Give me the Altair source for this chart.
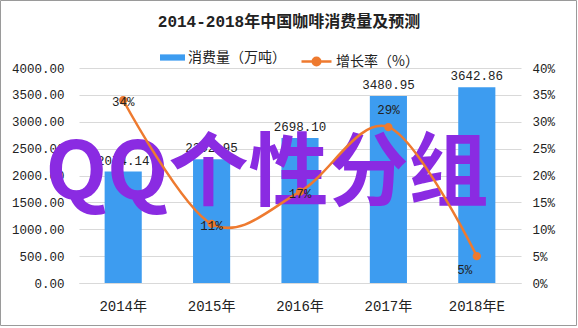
import altair as alt
import pandas as pd

# ---- data ----
years = ["2014年", "2015年", "2016年", "2017年", "2018年E"]
consumption = [2074.14, 2302.95, 2698.10, 3480.95, 3642.86]   # 消费量（万吨）
growth = [0.34, 0.11, 0.17, 0.29, 0.05]                       # 增长率
left_ticks = [0, 500, 1000, 1500, 2000, 2500, 3000, 3500, 4000]
right_ticks = [0, 0.05, 0.10, 0.15, 0.20, 0.25, 0.30, 0.35, 0.40]
series_bar = "消费量（万吨）"
series_line = "增长率（%）"
title_text = "2014-2018年中国咖啡消费量及预测"
overlay_text = "QQ个性分组"

# ---- styles ----
BLUE = "#3d9cf0"
ORANGE = "#ee7a2f"
PURPLE = "#8a2be2"
GRID = "#d9d9d9"
TXT = "#222222"
NUM_FONT = "Liberation Mono, Noto Sans CJK SC"
CJK_FONT = "Noto Sans CJK SC"
W, H = 442, 215

df = pd.DataFrame({
    "year": years,
    "consumption": consumption,
    "growth": growth,
    "s1": [series_bar] * len(years),
    "s2": [series_line] * len(years),
})

base = alt.Chart(df)

x_enc = alt.X(
    "year:N", sort=years,
    scale=alt.Scale(paddingInner=0.58, paddingOuter=0.29),
    axis=alt.Axis(title=None, labelAngle=0, ticks=False, domainColor=GRID,
                  labelPadding=16, labelFont=NUM_FONT, labelFontSize=14,
                  labelColor=TXT, grid=False),
)

left_axis = alt.Axis(title=None, values=left_ticks, format=".2f",
                     ticks=False, domain=False, gridColor=GRID,
                     labelPadding=15, labelFont=NUM_FONT,
                     labelFontSize=12.5, labelColor=TXT)
right_axis = alt.Axis(orient="right", title=None, values=right_ticks,
                      format=".0%", ticks=False, domain=False, grid=False,
                      labelPadding=11, labelFont=NUM_FONT,
                      labelFontSize=12.5, labelColor=TXT)

y_left = alt.Y("consumption:Q", scale=alt.Scale(domain=[0, 4000], nice=False),
               axis=left_axis)
y_right = alt.Y("growth:Q", scale=alt.Scale(domain=[0, 0.4], nice=False),
                axis=right_axis)

bars = base.mark_bar(color=BLUE).encode(
    x=x_enc,
    y=y_left,
    color=alt.Color("s1:N", scale=alt.Scale(range=[BLUE]),
                    legend=alt.Legend(title=None, orient="none",
                                      legendX=81, legendY=-23,
                                      symbolType="M-1,-0.25H1V0.25H-1Z",
                                      symbolSize=625, symbolStrokeWidth=0,
                                      labelFont=CJK_FONT, labelFontSize=14,
                                      labelColor=TXT, labelOffset=3)),
)

bar_labels = base.mark_text(baseline="bottom", dy=-4, font=NUM_FONT,
                            fontSize=12.5, color=TXT).encode(
    x=x_enc,
    y=y_left,
    text=alt.Text("consumption:Q", format=".2f"),
)

one = pd.DataFrame({"t": [overlay_text], "title": [title_text]})

overlay = alt.Chart(one).mark_text(
    font=CJK_FONT, fontSize=80, fontWeight="bold", color=PURPLE,
    align="center", baseline="middle",
).encode(x=alt.value(188), y=alt.value(107), text="t:N")

title_mark = alt.Chart(one).mark_text(
    font=NUM_FONT, fontSize=16, fontWeight="bold", color=TXT,
    align="center", baseline="middle",
).encode(x=alt.value(210), y=alt.value(-46), text="title:N")

border = alt.Chart(one).mark_rect(
    fillOpacity=0, stroke="#9a9a9a", strokeWidth=1
).encode(x=alt.value(-78.5), x2=alt.value(497.5),
         y=alt.value(-67.5), y2=alt.value(257.5))

left = alt.layer(bars, bar_labels, overlay, title_mark, border)

line = base.mark_line(
    interpolate="cardinal", strokeWidth=2.5,
    point=alt.OverlayMarkDef(filled=True, fill=ORANGE, size=40),
).encode(
    x=x_enc,
    y=y_right,
    stroke=alt.Stroke("s2:N", scale=alt.Scale(range=[ORANGE]),
                      legend=alt.Legend(title=None, orient="none",
                                        legendX=221, legendY=-23,
                                        symbolType="M-1,0H1M0.25,0A0.25,0.25,0,1,1,-0.25,0A0.25,0.25,0,1,1,0.25,0",
                                        symbolSize=900, symbolStrokeWidth=2.5,
                                        symbolFillColor=ORANGE,
                                        labelFont=CJK_FONT, labelFontSize=14,
                                        labelColor=TXT, labelOffset=3)),
)

def glabel(years_sel, dx, dy):
    return base.transform_filter(
        alt.FieldOneOfPredicate(field="year", oneOf=years_sel)
    ).mark_text(font=NUM_FONT, fontSize=12.5, color=TXT, baseline="middle",
                dx=dx, dy=dy).encode(
        x=x_enc,
        y=y_right,
        text=alt.Text("growth:Q", format=".0%"),
    )

right = alt.layer(
    line,
    glabel(years[:3], 0, 2),
    glabel([years[3]], 0, -17),
    glabel([years[4]], -12, 14),
)

chart = alt.layer(left, right).resolve_scale(
    y="independent"
).properties(
    width=W, height=H,
    padding={"left": 79, "top": 68, "right": 57, "bottom": 45},
    autosize=alt.AutoSizeParams(type="none"),
    background="white",
).configure_view(stroke=None)

chart.save("out.html", embed_options={"renderer": "svg", "actions": False})
